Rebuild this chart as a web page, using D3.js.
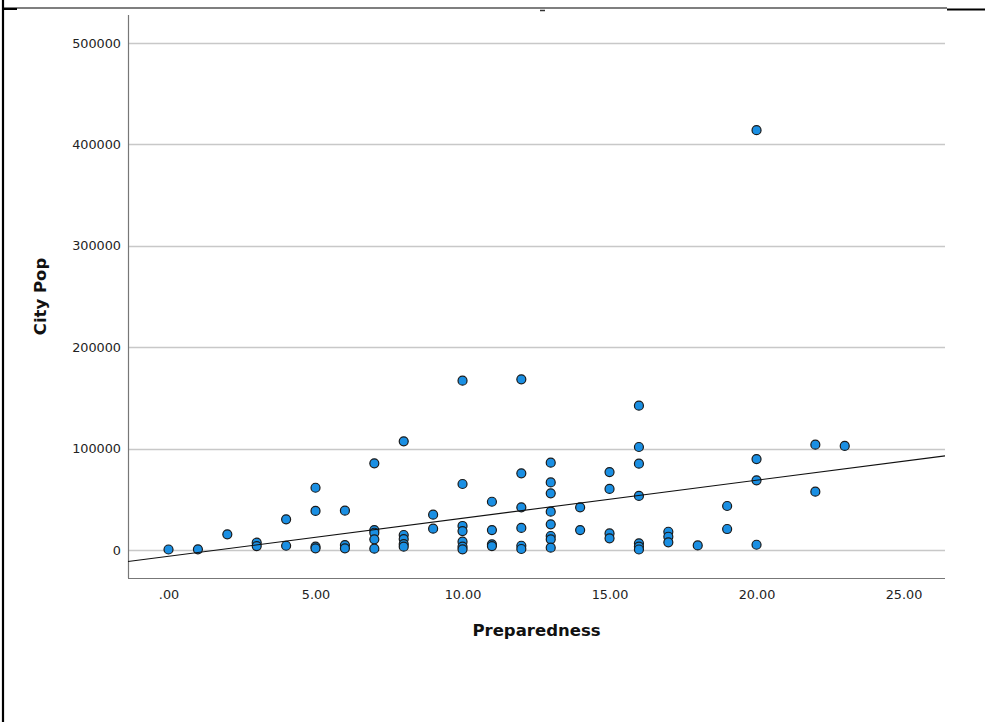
<!DOCTYPE html>
<html>
<head>
<meta charset="utf-8">
<script src="https://cdn.jsdelivr.net/npm/d3@7"></script>
<style>
    html, body { margin: 0; padding: 0; background: #fff; }
    svg { display: block; }
</style>
</head>
<body>
<div id="chart"></div>
<script>
(function () {
    // x = Preparedness, y = City Pop
    const preparedness = [
        0, 1, 2, 3, 3, 4, 4,
        5, 5, 5, 5, 6, 6, 6,
        7, 7, 7, 7, 7, 8, 8, 8, 8, 8,
        9, 9, 10, 10, 10, 10, 10, 10, 10,
        11, 11, 11, 11, 12, 12, 12, 12, 12, 12,
        13, 13, 13, 13, 13, 13, 13, 13, 14, 14,
        15, 15, 15, 15, 16, 16, 16, 16, 16, 16, 16,
        17, 17, 17, 18, 19, 19, 20, 20, 20, 20,
        22, 22, 23
    ];
    const cityPop = [
        500, 700, 15500, 7200, 3900, 30300, 4200,
        61400, 38500, 3300, 1700, 38800, 4900, 1700,
        85500, 19700, 17000, 10500, 1300, 107200, 14800, 10800, 5900, 3300,
        34800, 21000, 167000, 65100, 23700, 18700, 8200, 3300, 700,
        47600, 19700, 5600, 3900, 168300, 75600, 42100, 21800, 4200, 1000,
        86100, 66700, 55900, 37800, 25300, 13800, 10500, 2300, 42100, 19700,
        76900, 60200, 16400, 11500, 142300, 101600, 85100, 53300, 6600, 3300, 500,
        18000, 13100, 7600, 4500, 43400, 20700, 414000, 89700, 68700, 5200,
        103900, 57500, 102600
    ];
    const xTicks = [0, 5, 10, 15, 20, 25];
    const yTicks = [0, 100000, 200000, 300000, 400000, 500000];
    // fit line, total
    const fitIntercept = -6200;
    const fitSlope = 3750;

    const W = 985, H = 722;
    const margin = { top: 15, left: 128, right: 40, bottom: 144 };
    const width = W - margin.left - margin.right;
    const height = H - margin.top - margin.bottom;

    const svg = d3.select("#chart").append("svg")
        .attr("width", W)
        .attr("height", H);

    // cropped output frame
    svg.append("line").attr("x1", 3).attr("x2", 3).attr("y1", 0).attr("y2", H)
        .attr("stroke", "#000").attr("stroke-width", 2.2);
    svg.append("line").attr("x1", 3).attr("x2", 947).attr("y1", 8).attr("y2", 8)
        .attr("stroke", "#000").attr("stroke-width", 1.2);
    svg.append("line").attr("x1", 3).attr("x2", 17).attr("y1", 9).attr("y2", 9)
        .attr("stroke", "#000").attr("stroke-width", 2);
    svg.append("line").attr("x1", 947).attr("x2", W).attr("y1", 9.5).attr("y2", 9.5)
        .attr("stroke", "#000").attr("stroke-width", 2);
    svg.append("line").attr("x1", 540).attr("x2", 545).attr("y1", 10.5).attr("y2", 10.5)
        .attr("stroke", "#333").attr("stroke-width", 1.5);

    const g = svg.append("g")
        .attr("transform", `translate(${margin.left},${margin.top})`);

    const x = d3.scaleLinear().domain([-1.378, 26.41]).range([0, width]);
    const y = d3.scaleLinear().domain([-27600, 527600]).range([height, 0]);

    // gridlines
    g.append("g")
        .selectAll("line")
        .data(yTicks)
        .join("line")
        .attr("x1", 0)
        .attr("x2", width)
        .attr("y1", d => Math.round(y(d)) + 0.5)
        .attr("y2", d => Math.round(y(d)) + 0.5)
        .attr("stroke", "#c8c8c8")
        .attr("stroke-width", 1.3);

    const fmtX = d => d3.format(".2f")(d).replace(/^0\./, ".");

    const xAxis = g.append("g")
        .attr("transform", `translate(0,${height})`)
        .call(d3.axisBottom(x).tickValues(xTicks).tickFormat(fmtX).tickSize(0).tickPadding(12));

    const yAxis = g.append("g")
        .call(d3.axisLeft(y).tickValues(yTicks).tickFormat(d3.format("d")).tickSize(0).tickPadding(7));

    [xAxis, yAxis].forEach(a => {
        a.select(".domain").remove();
        a.selectAll("text")
            .style("font-family", "'DejaVu Sans', sans-serif")
            .style("font-size", "12.8px")
            .style("fill", "#222");
    });

    // axis lines
    g.append("line").attr("x1", 0.5).attr("x2", 0.5).attr("y1", 0).attr("y2", height)
        .attr("stroke", "#777").attr("stroke-width", 1.2);
    g.append("line").attr("x1", 0).attr("x2", width).attr("y1", height + 0.5).attr("y2", height + 0.5)
        .attr("stroke", "#777").attr("stroke-width", 1.2);

    // points
    g.append("g")
        .selectAll("circle")
        .data(preparedness.map((p, i) => ({ p, c: cityPop[i] })))
        .join("circle")
        .attr("cx", d => x(d.p))
        .attr("cy", d => y(d.c))
        .attr("r", 4.5)
        .attr("fill", "#1a8fe3")
        .attr("stroke", "#1a1a1a")
        .attr("stroke-width", 1.2);

    // fit line
    const xd = x.domain();
    g.append("line")
        .attr("x1", x(xd[0]))
        .attr("y1", y(fitIntercept + fitSlope * xd[0]))
        .attr("x2", x(xd[1]))
        .attr("y2", y(fitIntercept + fitSlope * xd[1]))
        .attr("stroke", "#111")
        .attr("stroke-width", 1.1);

    // axis titles
    g.append("text")
        .attr("x", width / 2)
        .attr("y", 621)
        .attr("text-anchor", "middle")
        .style("font-family", "'DejaVu Sans', sans-serif")
        .style("font-weight", "bold")
        .style("font-size", "16.5px")
        .style("fill", "#111")
        .text("Preparedness");

    g.append("text")
        .attr("transform", `translate(${46 - margin.left},${height / 2}) rotate(-90)`)
        .attr("text-anchor", "middle")
        .style("font-family", "'DejaVu Sans', sans-serif")
        .style("font-weight", "bold")
        .style("font-size", "16.5px")
        .style("fill", "#111")
        .text("City Pop");
})();
</script>
</body>
</html>
